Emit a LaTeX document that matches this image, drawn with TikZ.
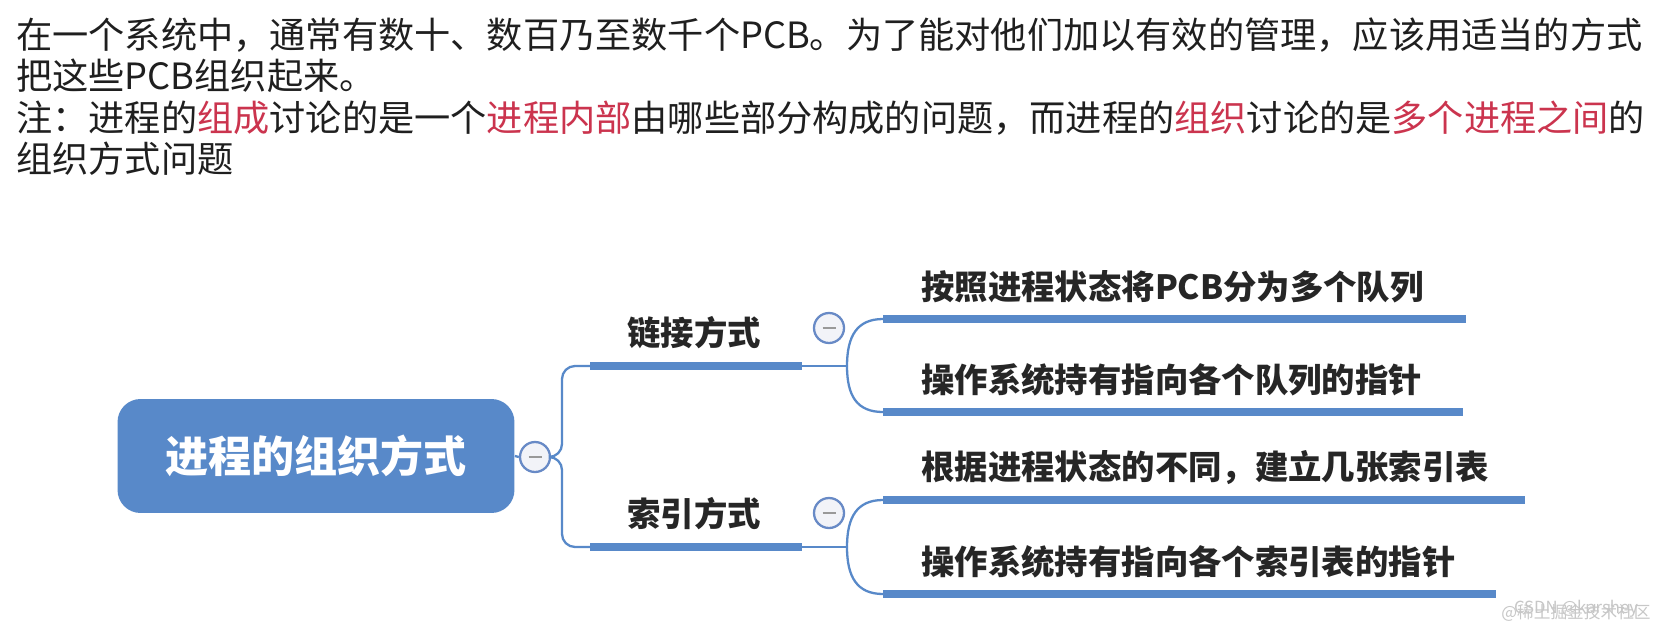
\documentclass[tikz,border=0pt]{standalone}
\usepackage{fontspec}
\setmainfont{Noto Sans CJK SC}
\usetikzlibrary{positioning}
\usetikzlibrary{calc}

\definecolor{mapblue}{RGB}{88,137,201}
\definecolor{noteRed}{RGB}{203,52,78}
\definecolor{foldLine}{RGB}{104,138,198}
\definecolor{foldFill}{RGB}{242,243,248}

\begin{document}
\begin{tikzpicture}[
    x=0.02cm, y=-0.02cm,
    every node/.style={inner sep=0pt},
    line/.style={anchor=west, font=\fontsize{20.6pt}{24pt}\selectfont, text=black!88},
    rootbox/.style={fill=mapblue, rounded corners=0.46cm, minimum width=7.94cm, minimum height=2.28cm, text=white, font=\fontsize{24.5pt}{28pt}\selectfont\bfseries},
    branch/.style={font=\fontsize{19pt}{22pt}\selectfont\bfseries, text=black!85},
    leaf/.style={anchor=west, font=\fontsize{19pt}{22pt}\selectfont\bfseries, text=black!85},
    bar/.style={draw=mapblue, line width=4.5pt},
    twig/.style={draw=mapblue, line width=1.3pt},
    fold/.style={circle, draw=foldLine, fill=foldFill, line width=1.3pt, minimum size=0.6cm,
        path picture={\draw[gray!80, line width=1.6pt] ([xshift=-0.13cm]path picture bounding box.center) -- ([xshift=0.13cm]path picture bounding box.center);}},
    wmark/.style={font=\fontsize{9.5pt}{11pt}\selectfont, text=black!22}
]
\useasboundingbox[fill=white] (0,0) rectangle (1660,629);

% text above the map
\node[line] (l1) at (16,35) {在一个系统中，通常有数十、数百乃至数千个PCB。为了能对他们加以有效的管理，应该用适当的方式};
\node[line] (l2) at (16,76) {把这些PCB组织起来。};
\node[line] (l3) at (16,118) {注：进程的{\color{noteRed}组成}讨论的是一个{\color{noteRed}进程内部}由哪些部分构成的问题，而进程的{\color{noteRed}组织}讨论的是{\color{noteRed}多个进程之间}的};
\node[line] (l4) at (16,159) {组织方式问题};

% root
\node[rootbox] (root) at (316,456) {进程的组织方式};
\node[fold] (f0) at (535,457) {};

% branches
\coordinate (linkL) at (590,366);
\coordinate (linkR) at (802,366);
\coordinate (linkS) at (847,366);
\coordinate (indexL) at (590,547);
\coordinate (indexR) at (802,547);
\coordinate (indexS) at (847,547);
\node[branch] (link) at (694,333) {链接方式};
\node[branch] (index) at (694,514) {索引方式};
\node[fold] (f1) at (829,328) {};
\node[fold] (f2) at (829,513) {};

% leaves
\coordinate (leafAL) at (883,319);
\coordinate (leafBL) at (883,412);
\coordinate (leafCL) at (883,500);
\coordinate (leafDL) at (883,594);
\node[leaf] (leafA) at (921,287) {按照进程状态将PCB分为多个队列};
\node[leaf] (leafB) at (921,380) {操作系统持有指向各个队列的指针};
\node[leaf] (leafC) at (921,468) {根据进程状态的不同，建立几张索引表};
\node[leaf] (leafD) at (921,562) {操作系统持有指向各个索引表的指针};

\draw[twig] (root.east) -- (f0.west);
\draw[twig, rounded corners=0.26cm] (f0.east) -- (562,457) |- (linkL);
\draw[twig, rounded corners=0.26cm] (f0.east) -- (562,457) |- (indexL);
\draw[bar] (linkL) -- (linkR);
\draw[bar] (indexL) -- (indexR);
\draw[twig] (linkR) -- (linkS);
\draw[twig] (indexR) -- (indexS);
\draw[twig] (linkS) .. controls (847,336) and (857,319) .. (leafAL);
\draw[twig] (linkS) .. controls (847,396) and (857,412) .. (leafBL);
\draw[twig] (indexS) .. controls (847,517) and (857,500) .. (leafCL);
\draw[twig] (indexS) .. controls (847,577) and (857,594) .. (leafDL);
\draw[bar] (leafAL) -- (1466,319);
\draw[bar] (leafBL) -- (1463,412);
\draw[bar] (leafCL) -- (1525,500);
\draw[bar] (leafDL) -- (1496,594);

% watermark
\node[wmark] (wm1) at (1576,609) {CSDN @karshey};
\node[wmark] (wm2) at (1576,613) {@稀土掘金技术社区};
\end{tikzpicture}
\end{document}
